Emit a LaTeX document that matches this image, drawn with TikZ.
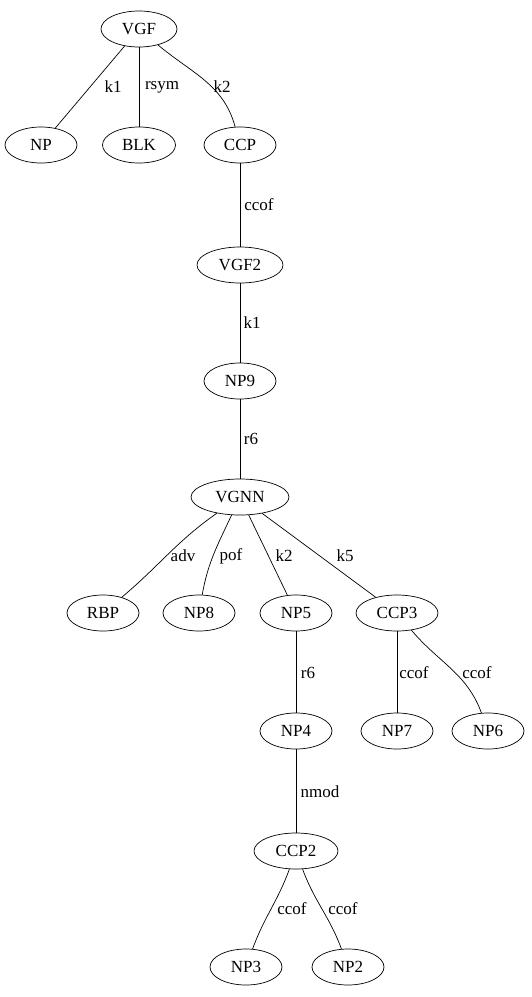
\documentclass[tikz,border=0pt]{standalone}
\usepackage{fontspec}
\setmainfont{Liberation Serif}
\usetikzlibrary{shapes.geometric}
\begin{document}
\begin{tikzpicture}[x=1pt,y=-1pt,
  every node/.style={font=\fontsize{17}{19}\selectfont},
  nd/.style={draw,ellipse,line width=0.7pt,minimum height=36pt,inner sep=0pt},
  lbl/.style={inner sep=0pt,anchor=center},
  edge/.style={line width=0.7pt}]
\useasboundingbox (0,0) rectangle (531,997);
% tree nodes
\node[nd,minimum width=76pt] (vgf)  at (139,29)  {VGF};
\node[nd,minimum width=72pt] (np)   at (41,145)  {NP};
\node[nd,minimum width=73pt] (blk)  at (139,145) {BLK};
\node[nd,minimum width=72pt] (ccp)  at (240,145) {CCP};
\node[nd,minimum width=86pt] (vgf2) at (240,265) {VGF2};
\node[nd,minimum width=72pt] (np9)  at (240,381) {NP9};
\node[nd,minimum width=98pt] (vgnn) at (240,497) {VGNN};
\node[nd,minimum width=72pt] (rbp)  at (103,613) {RBP};
\node[nd,minimum width=72pt] (np8)  at (199,613) {NP8};
\node[nd,minimum width=72pt] (np5)  at (296,613) {NP5};
\node[nd,minimum width=82pt] (ccp3) at (397,613) {CCP3};
\node[nd,minimum width=72pt] (np7)  at (397,731) {NP7};
\node[nd,minimum width=72pt] (np6)  at (488,731) {NP6};
\node[nd,minimum width=72pt] (np4)  at (296,731) {NP4};
\node[nd,minimum width=84pt] (ccp2) at (296,851) {CCP2};
\node[nd,minimum width=72pt] (np3)  at (246,967) {NP3};
\node[nd,minimum width=72pt] (np2)  at (348,967) {NP2};
% connectors
\draw[edge] (vgf) -- (np);
\draw[edge] (vgf) -- (blk);
\draw[edge] (vgf) to[out=-40,in=105] (ccp);
\draw[edge] (ccp) -- (vgf2);
\draw[edge] (vgf2) -- (np9);
\draw[edge] (np9) -- (vgnn);
\draw[edge] (vgnn) to[out=-145,in=40] (rbp);
\draw[edge] (vgnn) to[out=-115,in=80] (np8);
\draw[edge] (vgnn) -- (np5);
\draw[edge] (vgnn) -- (ccp3);
\draw[edge] (np5) -- (np4);
\draw[edge] (np4) -- (ccp2);
\draw[edge] (ccp3) -- (np7);
\draw[edge] (ccp3) to[out=-50,in=110] (np6);
\draw[edge] (ccp2) to[out=-110,in=70] (np3);
\draw[edge] (ccp2) to[out=-70,in=110] (np2);
% edge labels
\node[lbl] (l1)  at (113,87)  {k1};
\node[lbl] (l2)  at (162,87)  {rsym};
\node[lbl] (l3)  at (222,87)  {k2};
\node[lbl] (l4)  at (259,205) {ccof};
\node[lbl] (l5)  at (252,323) {k1};
\node[lbl] (l6)  at (251,439) {r6};
\node[lbl] (l7)  at (183,556) {adv};
\node[lbl] (l8)  at (231,556) {pof};
\node[lbl] (l9)  at (284,556) {k2};
\node[lbl] (l10) at (345,556) {k5};
\node[lbl] (l11) at (308,673) {r6};
\node[lbl] (l12) at (414,673) {ccof};
\node[lbl] (l13) at (477,673) {ccof};
\node[lbl] (l14) at (320,792) {nmod};
\node[lbl] (l15) at (292,909) {ccof};
\node[lbl] (l16) at (343,909) {ccof};
\end{tikzpicture}
\end{document}
